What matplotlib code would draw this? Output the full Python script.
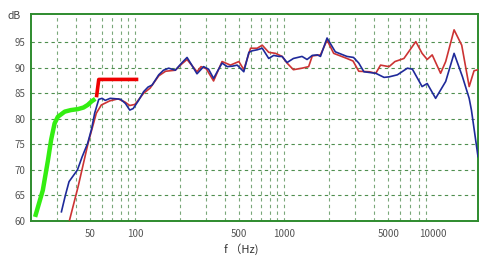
import matplotlib
matplotlib.use("Agg")
import matplotlib.pyplot as plt

# --- data ---
green_f = [21.3, 24, 26, 27.3, 28.8, 30.3, 33.7, 37, 41.4, 45, 48, 51, 54]
green_db = [60.8, 66, 71.9, 75.9, 79.1, 80.4, 81.4, 81.7, 81.9, 82.2, 82.7, 83.4, 83.9]

redthick_f = [55, 57, 105]
redthick_db = [84.2, 87.7, 87.7]

blue_f = [32, 34, 36, 41, 44, 48, 51, 53.5, 57, 60, 63, 68, 75, 80, 86, 92, 97, 105, 114, 122,
          130, 144, 155, 168, 186, 205, 223, 240, 260, 288, 311, 336, 360, 383, 415, 450, 484,
          536, 580, 610, 660, 713, 788, 851, 923, 969, 1046, 1154, 1318, 1425, 1545, 1673, 1753,
          1941, 2205, 2638, 2921, 3168, 3429, 4120, 4681, 5060, 5753, 6717, 7258, 8430, 9120,
          10390, 12140, 13820, 15740, 17450, 18070, 20000]
blue_db = [61.8, 65, 67.7, 70, 72.5, 75.2, 78, 81.1, 83.8, 84.0, 83.6, 84.0, 83.9, 83.8, 83.0,
           81.7, 82.0, 83.5, 85.3, 86.2, 86.6, 88.6, 89.5, 89.9, 89.5, 90.9, 92.0, 90.5, 88.8,
           90.2, 89.7, 87.9, 89.5, 90.9, 90.2, 90.3, 90.5, 89.2, 93.0, 93.3, 93.5, 93.8, 91.8,
           92.4, 92.2, 92.2, 91.0, 91.8, 92.2, 91.6, 92.4, 92.5, 92.2, 95.8, 93.1, 92.2, 92.0,
           90.9, 89.2, 88.9, 88.1, 88.2, 88.6, 89.9, 89.7, 86.3, 86.9, 84.0, 87.3, 92.8, 88.2,
           84.0, 81.7, 72.6]

red_f = [36.3, 41.4, 48.3, 54.9, 59.3, 67.5, 76.8, 85.2, 92, 99.5, 106, 114, 126, 144, 160, 186,
         205, 223, 260, 277, 300, 336, 383, 436, 497, 536, 595, 659, 713, 788, 875, 969, 1046,
         1154, 1318, 1460, 1545, 1753, 1941, 2150, 2638, 2900, 3168, 3728, 4120, 4435, 5060,
         5544, 6367, 7649, 8430, 9120, 9856, 11220, 12140, 13820, 15550, 17450, 18810, 20000]
red_db = [60.2, 66.7, 75.2, 81.1, 82.7, 83.5, 83.9, 83.3, 82.6, 82.8, 83.8, 85.0, 86.0, 88.4,
          89.3, 89.5, 90.7, 91.6, 89.2, 90.2, 89.8, 87.4, 91.2, 90.5, 91.2, 89.6, 93.8, 93.8,
          94.4, 93.0, 92.8, 92.2, 90.9, 89.6, 89.9, 90.2, 92.3, 92.5, 95.4, 92.8, 91.8, 91.3,
          89.3, 89.2, 88.9, 90.5, 90.2, 91.2, 91.8, 95.1, 92.8, 91.6, 92.5, 88.9, 91.2, 97.4,
          94.4, 86.3, 89.4, 89.6]

xtick_vals = [50, 100, 500, 1000, 5000, 10000]
xtick_labels = ["50", "100", "500", "1000", "5000", "10000"]
ytick_vals = [60, 65, 70, 75, 80, 85, 90, 95]
vgrid = [30, 40, 50, 60, 70, 80, 90, 100, 200, 300, 400, 500, 600, 700, 800, 900, 1000,
         2000, 3000, 4000, 5000, 6000, 7000, 8000, 9000]

plt.rcParams['font.family'] = ['Noto Sans CJK JP', 'DejaVu Sans']

fig = plt.figure(figsize=(4.8, 2.66), dpi=100)
ax = fig.add_axes([31/480, 1-221/266, 447/480, 207/266])
ax.set_xscale('log')
ax.set_xlim(20, 20000)
ax.set_ylim(60, 100.5)

gridc = '#4f8f4f'
for v in vgrid:
    ax.axvline(v, color='#7aa87a', lw=0.8, ls=(0, (3, 3)), zorder=1)
for v in ytick_vals[1:]:
    ax.axhline(v, color=gridc, lw=0.8, ls=(0, (3, 3)), zorder=1)

ax.plot(green_f, green_db, color='#33ee11', lw=3.2, solid_capstyle='butt', zorder=3)
ax.plot(redthick_f, redthick_db, color='#ee0000', lw=2.6, solid_capstyle='butt', zorder=3)
ax.plot(red_f, red_db, color='#cc3333', lw=1.2, zorder=4)
ax.plot(blue_f, blue_db, color='#1f2a9a', lw=1.2, zorder=5)

for s in ax.spines.values():
    s.set_color('#2e8b2e')
    s.set_linewidth(1.4)

ax.set_xticks(xtick_vals)
ax.set_xticklabels(xtick_labels)
ax.xaxis.set_minor_locator(matplotlib.ticker.NullLocator())
ax.set_yticks(ytick_vals)
ax.set_yticklabels([str(v) for v in ytick_vals])
ax.tick_params(axis='both', length=0, labelsize=7, colors='#555555', pad=4)
ax.tick_params(axis='x', pad=6)

fig.text(14/480, 1-16/266, 'dB', fontsize=7.5, color='#444444', ha='center', va='center')
fig.text(241/480, 1-249/266, 'f （Hz)', fontsize=8, color='#333333', ha='center', va='center')

fig.savefig('out.png', dpi=100)
